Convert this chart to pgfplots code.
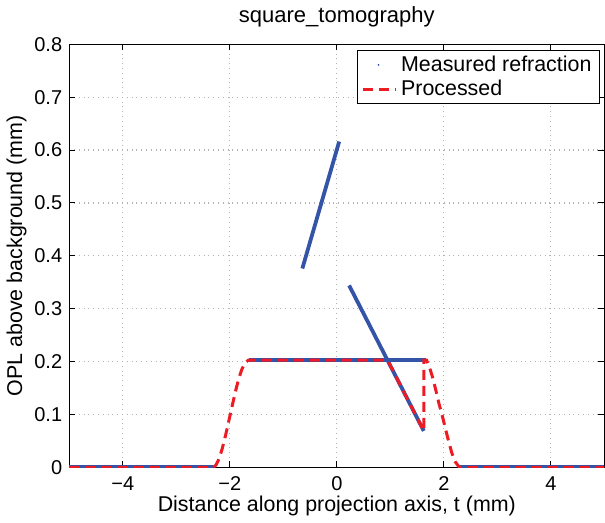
\documentclass[border=0pt]{standalone}
\usepackage{fontspec}
\setmainfont{Liberation Sans}
\usepackage{pgfplots}
\pgfplotsset{compat=1.18}
\definecolor{mblue}{RGB}{52,84,168}
\definecolor{mred}{RGB}{237,28,36}

\begin{document}
\begin{tikzpicture}
\begin{axis}[
    scale only axis,
    width=267.5pt,
    height=211.5pt,
    xmin=-5, xmax=5,
    ymin=0, ymax=0.8,
    xtick={-4,-2,0,2,4},
    xticklabels={−4,−2,0,2,4},
    ytick={0,0.1,0.2,0.3,0.4,0.5,0.6,0.7,0.8},
    yticklabels={0,0.1,0.2,0.3,0.4,0.5,0.6,0.7,0.8},
    tick align=inside,
    major tick length=3pt,
    tick style={black, line width=0.5pt},
    axis line style={black, line width=0.5pt},
    grid=major,
    grid style={gray!60, dotted, line width=0.6pt},
    tick label style={font=\fontsize{10}{12}\selectfont},
    xticklabel style={yshift=-1pt},
    label style={font=\fontsize{10.7}{12}\selectfont},
    title style={font=\fontsize{11}{13}\selectfont, yshift=-1pt},
    title={square\_tomography},
    xlabel={Distance along projection axis, t (mm)},
    ylabel={OPL above background (mm)},
    xlabel style={yshift=4pt},
    ylabel style={yshift=-3pt},
    legend style={at={(0.9916,0.986)}, anchor=north east, draw=black,
        font=\fontsize{10.7}{12}\selectfont, inner xsep=2pt, inner ysep=0.5pt,
        row sep=-1pt, cells={anchor=west}},
    legend cell align=left,
]
% measured refraction (dots, drawn as dense segments)
\addplot[mblue, line width=1.9pt, mark=none,
    legend image code/.code={\fill[mblue, draw=none] (0.28cm,0cm) circle (0.5pt);}]
    coordinates {(-1.65,0.203) (1.67,0.203)};
\addlegendentry{Measured refraction}
\addplot[mblue, line width=1.9pt, forget plot] coordinates {(-0.644,0.376) (0.044,0.616)};
\addplot[mblue, line width=1.9pt, forget plot] coordinates {(0.23,0.344) (1.625,0.069)};
\addplot[mblue, line width=1.9pt, forget plot] coordinates {(-5,0) (-2.31,0)};
\addplot[mblue, line width=1.9pt, forget plot] coordinates {(2.29,0) (5,0)};
% processed
\addplot[mred, line width=1.5pt, dash pattern=on 5pt off 3pt, mark=none,
    legend image code/.code={\draw[mred, line width=1.5pt, dash pattern=on 5pt off 3pt] (0cm,0cm) -- (0.58cm,0cm);}] coordinates {
    (-5,0) (-2.31,0) (-2.26,0.004) (-2.20,0.016) (-2.14,0.036) (-2.08,0.060)
    (-2.02,0.087) (-1.96,0.114) (-1.90,0.141) (-1.84,0.165) (-1.78,0.184)
    (-1.72,0.197) (-1.65,0.203) (0.946,0.203) (1.625,0.069) (1.625,0.203)
    (1.675,0.203) (1.73,0.190) (1.79,0.170) (1.85,0.146) (1.91,0.120)
    (1.97,0.098) (2.03,0.073) (2.09,0.049) (2.15,0.027) (2.21,0.011)
    (2.29,0) (5,0)};
\addlegendentry{Processed}
\end{axis}
\end{tikzpicture}
\end{document}
